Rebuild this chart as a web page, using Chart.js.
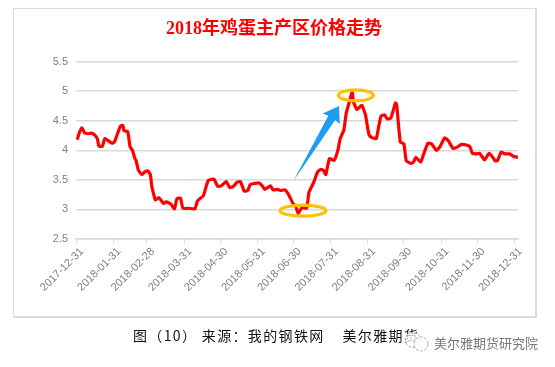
<!DOCTYPE html>
<html>
<head>
<meta charset="utf-8">
<style>
  body { margin: 0; background: #fff; }
  #wrap { position: relative; width: 555px; height: 367px; overflow: hidden; }
  #frame { position: absolute; left: 13px; top: 8px; width: 521px; height: 307px; border: 1px solid #dcdcdc; border-width: 1px 2px 2px 1px; }
  canvas { position: absolute; left: 0; top: 0; }
  #caption { position: absolute; left: 133px; top: 325px; font: 14px "Noto Sans CJK SC", sans-serif; color: #111; white-space: pre; letter-spacing: 1.35px; }
  #mark { position: absolute; left: 434px; top: 333px; font: 13px "Noto Sans CJK SC", sans-serif; color: #777; white-space: pre; }
  #icon { position: absolute; left: 404px; top: 332px; }
</style>
</head>
<body>
<div id="wrap">
  <div id="frame"></div>
  <canvas id="chart" width="555" height="367"></canvas>
  <div id="caption">图（10） 来源：我的钢铁网    美尔雅期货</div>
  <svg id="icon" width="26" height="20">
    <circle cx="9" cy="8" r="7.5" fill="#fff" fill-opacity="0.75" stroke="#aaa" stroke-dasharray="3 1.5"/>
    <circle cx="17" cy="12" r="7" fill="#fff" fill-opacity="0.75" stroke="#aaa" stroke-dasharray="3 1.5"/>
  </svg>
  <div id="mark">美尔雅期货研究院</div>
</div>
<script src="https://cdn.jsdelivr.net/npm/chart.js@4/dist/chart.umd.min.js"></script>
<script>
// days counted from 2017-12-31, prices
const days = [1,3,5,7,10,13,16,18,19,22,24,27,30,32,34,37,39,40,43,45,47,49,50,52,55,57,60,62,
  63,65,66,69,73,75,79,82,84,87,89,94,99,101,103,106,110,113,115,118,121,125,128,131,134,137,140,143,145,149,152,155,157,162,164,168,
  170,174,177,181,183,185,188,192,194,198,201,204,206,208,211,215,218,220,223,225,228,230,231,234,238,241,244,247,250,252,254,257,259,262,266,267,
  270,273,275,279,281,283,287,289,293,296,300,303,307,310,314,317,321,325,328,330,334,336,340,341,344,346,349,351,354,357,361,364,368];
const prices = [4.18,4.31,4.38,4.30,4.28,4.29,4.25,4.18,4.07,4.07,4.20,4.16,4.12,4.14,4.25,4.41,4.42,4.33,4.32,4.06,4.00,3.86,3.83,3.66,3.59,3.63,3.65,3.58,
  3.40,3.23,3.16,3.20,3.10,3.13,3.09,3.01,3.18,3.19,3.02,3.02,3.01,3.14,3.18,3.23,3.49,3.51,3.51,3.39,3.40,3.47,3.37,3.39,3.46,3.47,3.31,3.32,3.42,3.44,3.45,3.40,3.34,3.40,3.33,3.34,
  3.32,3.33,3.25,3.09,3.06,2.93,3.03,3.02,3.29,3.46,3.63,3.68,3.66,3.59,3.86,3.83,4.00,4.20,4.34,4.63,4.85,4.99,4.82,4.69,4.76,4.60,4.26,4.21,4.20,4.40,4.58,4.60,4.53,4.54,4.80,4.77,
  4.14,4.11,3.82,3.78,3.80,3.88,3.80,3.91,4.12,4.11,4.00,4.06,4.21,4.16,4.03,4.05,4.10,4.09,4.06,3.95,3.94,3.95,3.84,3.86,3.95,3.91,3.82,3.83,3.97,3.94,3.94,3.90,3.88];
const tickDays = [0,31,59,90,120,151,181,212,243,273,304,334,365];
const tickLabels = ["2017-12-31","2018-01-31","2018-02-28","2018-03-31","2018-04-30","2018-05-31","2018-06-30",
  "2018-07-31","2018-08-31","2018-09-30","2018-10-31","2018-11-30","2018-12-31"];
const yTicks = [2.5,3,3.5,4,4.5,5,5.5];

// low and high markers, and the arrow between them
const lowMark = [189, 2.98];
const highMark = [233, 4.93];
const arrowFrom = [181, 3.48];
const arrowTo = [219, 4.75];

const notes = {
  id: "notes",
  afterLayout(chart) {
    // title sits over the whole frame, not just the padded box
    chart.titleBlock.left += 15;
    chart.titleBlock.right += 15;
  },
  afterDatasetsDraw(chart) {
    const { ctx, scales: { x, y } } = chart;
    ctx.save();
    ctx.strokeStyle = "#ffc000";
    ctx.lineWidth = 3.2;
    [[lowMark, 23], [highMark, 17.5]].forEach(([m, rx]) => {
      ctx.beginPath();
      ctx.ellipse(x.getPixelForValue(m[0]), y.getPixelForValue(m[1]), rx, 5.5, 0, 0, Math.PI * 2);
      ctx.stroke();
    });
    const x0 = x.getPixelForValue(arrowFrom[0]), y0 = y.getPixelForValue(arrowFrom[1]);
    const x1 = x.getPixelForValue(arrowTo[0]), y1 = y.getPixelForValue(arrowTo[1]);
    const a = Math.atan2(y1 - y0, x1 - x0);
    const px = (along, side) => [x1 - along * Math.cos(a) - side * Math.sin(a), y1 - along * Math.sin(a) + side * Math.cos(a)];
    const shape = [[x0, y0], px(14, 4), px(15, 10), [x1, y1], px(15, -10), px(14, -4)];
    ctx.fillStyle = "#1e9cf0";
    ctx.beginPath();
    shape.forEach((p, i) => i ? ctx.lineTo(p[0], p[1]) : ctx.moveTo(p[0], p[1]));
    ctx.closePath();
    ctx.fill();
    ctx.restore();
  }
};

new Chart(document.getElementById("chart"), {
  type: "line",
  data: {
    datasets: [{
      data: days.map((d, i) => ({ x: d, y: prices[i] })),
      borderColor: "#ff0000",
      borderWidth: 3.2,
      pointRadius: 0,
      tension: 0.15
    }]
  },
  options: {
    responsive: false,
    animation: false,
    layout: { padding: { left: 0, right: 37, top: 0, bottom: 68 } },
    plugins: {
      legend: { display: false },
      tooltip: { enabled: false },
      title: {
        display: true,
        text: "2018年鸡蛋主产区价格走势",
        color: "#ff0000",
        font: { family: '"Liberation Serif", "Noto Sans CJK SC", serif', size: 18, weight: "bold" },
        padding: { top: 19, bottom: 21 }
      }
    },
    scales: {
      x: {
        type: "linear",
        min: 0,
        max: 368,
        afterBuildTicks(scale) { scale.ticks = tickDays.map(v => ({ value: v })); },
        afterFit(scale) { scale.height = 60; },
        grid: { drawOnChartArea: false, drawTicks: true, tickLength: 4, color: "#d9d9d9" },
        border: { display: true, color: "#d9d9d9", width: 1.5 },
        ticks: {
          autoSkip: false,
          minRotation: 45,
          maxRotation: 45,
          labelOffset: 6,
          padding: 2,
          color: "#7f7f7f",
          font: { family: '"Liberation Sans", sans-serif', size: 11 },
          callback: v => tickLabels[tickDays.indexOf(v)]
        }
      },
      y: {
        min: 2.5,
        max: 5.5,
        afterBuildTicks(scale) { scale.ticks = yTicks.map(v => ({ value: v })); },
        afterFit(scale) { scale.width = 76; },
        grid: { color: "#d9d9d9", lineWidth: 1.5, drawTicks: false },
        border: { display: false },
        ticks: {
          padding: 8,
          color: "#7f7f7f",
          font: { family: '"Liberation Sans", sans-serif', size: 11 },
          callback: v => String(v)
        }
      }
    }
  },
  plugins: [notes]
});
</script>
</body>
</html>
